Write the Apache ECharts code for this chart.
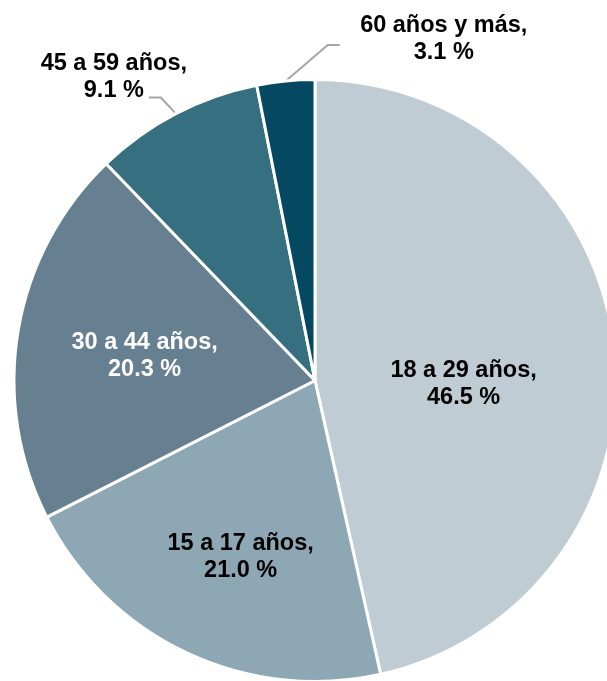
<!DOCTYPE html>
<html>
<head>
<meta charset="utf-8">
<script src="https://cdn.jsdelivr.net/npm/echarts@6/dist/echarts.min.js"></script>
<style>
  html, body { margin: 0; padding: 0; background: #fff; }
  #chart { width: 607px; height: 681px; }
</style>
</head>
<body>
<div id="chart"></div>
<script>
// datos: distribución por grupo de edad (%)
var groups = ['18 a 29 años', '15 a 17 años', '30 a 44 años', '45 a 59 años', '60 años y más'];
var shares = [46.5, 21.0, 20.3, 9.1, 3.1];
var colors = ['#bfccd3', '#8da8b4', '#667f91', '#356f80', '#044862'];
var textColors = ['#000', '#000', '#fff', '#000', '#000'];

// ajuste de etiquetas (como en el original de Excel)
var insideShift = [[-4, 20], [-9, 38], [-19, 1]];

var chart = echarts.init(document.getElementById('chart'));

var data = [];
for (let i = 0; i < groups.length; i++) {
    let inside = i < 3;
    data.push({
        name: groups[i],
        value: shares[i],
        itemStyle: { color: colors[i] },
        label: {
            position: inside ? 'inside' : 'outside',
            color: textColors[i]
        },
        labelLine: { show: !inside }
    });
}

var option = {
    animation: false,
    series: [{
        type: 'pie',
        center: [315, 380.5],
        radius: 301,
        startAngle: 90,
        clockwise: true,
        avoidLabelOverlap: false,
        itemStyle: { borderColor: '#fff', borderWidth: 3 },
        label: {
            formatter: function (p) { return p.name + ',\n' + p.value.toFixed(1) + ' %'; },
            fontFamily: 'Liberation Sans, Arial, sans-serif',
            fontWeight: 'bold',
            fontSize: 23.5,
            lineHeight: 27,
            align: 'center'
        },
        labelLine: {
            lineStyle: { color: '#a6a6a6', width: 2 }
        },
        labelLayout: function (params) {
            let i = params.dataIndex;
            if (i < 3) {
                return { dx: insideShift[i][0], dy: insideShift[i][1] };
            }
            let a = params.labelLinePoints[0];
            if (i === 3) {
                return {
                    x: a[0] - 62, y: a[1] - 37, align: 'center', verticalAlign: 'middle',
                    labelLinePoints: [a, [a[0] - 15, a[1] - 16], [a[0] - 27, a[1] - 16]]
                };
            }
            return {
                x: a[0] + 158, y: a[1] - 42, align: 'center', verticalAlign: 'middle',
                labelLinePoints: [a, [a[0] + 42, a[1] - 36], [a[0] + 54, a[1] - 36]]
            };
        },
        data: data
    }]
};

chart.setOption(option);
</script>
</body>
</html>
